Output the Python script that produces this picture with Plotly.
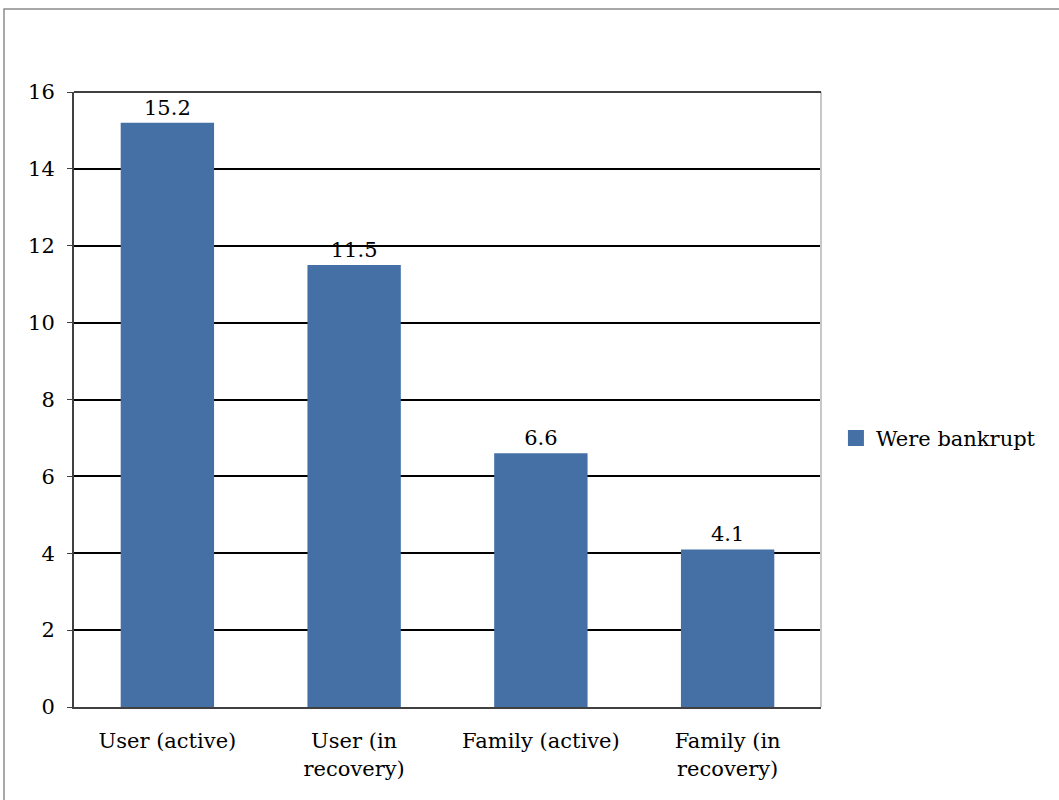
import plotly.graph_objects as go

categories = ["User (active)", "User (in<br>recovery)", "Family (active)", "Family (in<br>recovery)"]
values = [15.2, 11.5, 6.6, 4.1]
value_labels = ["15.2", "11.5", "6.6", "4.1"]
series_name = "Were bankrupt"
y_ticks = [0, 2, 4, 6, 8, 10, 12, 14, 16]

FONT = "DejaVu Serif"
FS = 21
BAR_COLOR = "#4470A6"
fig = go.Figure()
fig.add_trace(go.Bar(
    x=categories, y=values, name=series_name,
    marker=dict(color=BAR_COLOR, line=dict(width=0)),
    text=value_labels, textposition="outside", cliponaxis=False,
    textfont=dict(family=FONT, size=FS, color="#000000"),
    showlegend=False,
))
# legend entry with a larger square swatch
fig.add_trace(go.Scatter(
    x=[None], y=[None], mode="markers", name=series_name,
    marker=dict(symbol="square", size=18, color=BAR_COLOR),
    showlegend=True,
))

fig.update_layout(
    width=1059, height=800,
    margin=dict(l=74, r=238, t=92, b=93),
    paper_bgcolor="white", plot_bgcolor="white",
    font=dict(family=FONT, size=FS, color="#000000"),
    bargap=0.5,
    showlegend=True,
    legend=dict(x=1.02, y=0.437, xanchor="left", yanchor="middle",
                font=dict(family=FONT, size=FS, color="#000000"),
                itemwidth=30, bgcolor="rgba(0,0,0,0)"),
    xaxis=dict(showgrid=False, showline=True, linecolor="#404040", linewidth=2,
               ticks="", tickfont=dict(family=FONT, size=FS), ticklabelstandoff=14,
               mirror=False),
    yaxis=dict(range=[0, 16], tickvals=y_ticks, showgrid=True, gridcolor="#000000",
               gridwidth=1.5, showline=True, linecolor="#404040", linewidth=2,
               ticks="outside", ticklen=5, tickcolor="#404040",
               tickfont=dict(family=FONT, size=FS), ticklabelstandoff=8,
               zeroline=False),
    shapes=[
        dict(type="line", xref="paper", yref="paper", x0=1, x1=1, y0=0, y1=1,
             line=dict(color="#C8C8C8", width=2)),
        dict(type="line", xref="paper", yref="paper", x0=0, x1=1, y0=1, y1=1,
             line=dict(color="#000000", width=1.5)),
        dict(type="rect", xref="paper", yref="paper", x0=-0.0937, x1=1.5, y0=-0.3, y1=1.135,
             line=dict(color="#8C8C8C", width=1.5), layer="below"),
    ],
)

fig.write_html("out.html", config={"displayModeBar": False},
               post_script="document.body.style.margin='0px';")
